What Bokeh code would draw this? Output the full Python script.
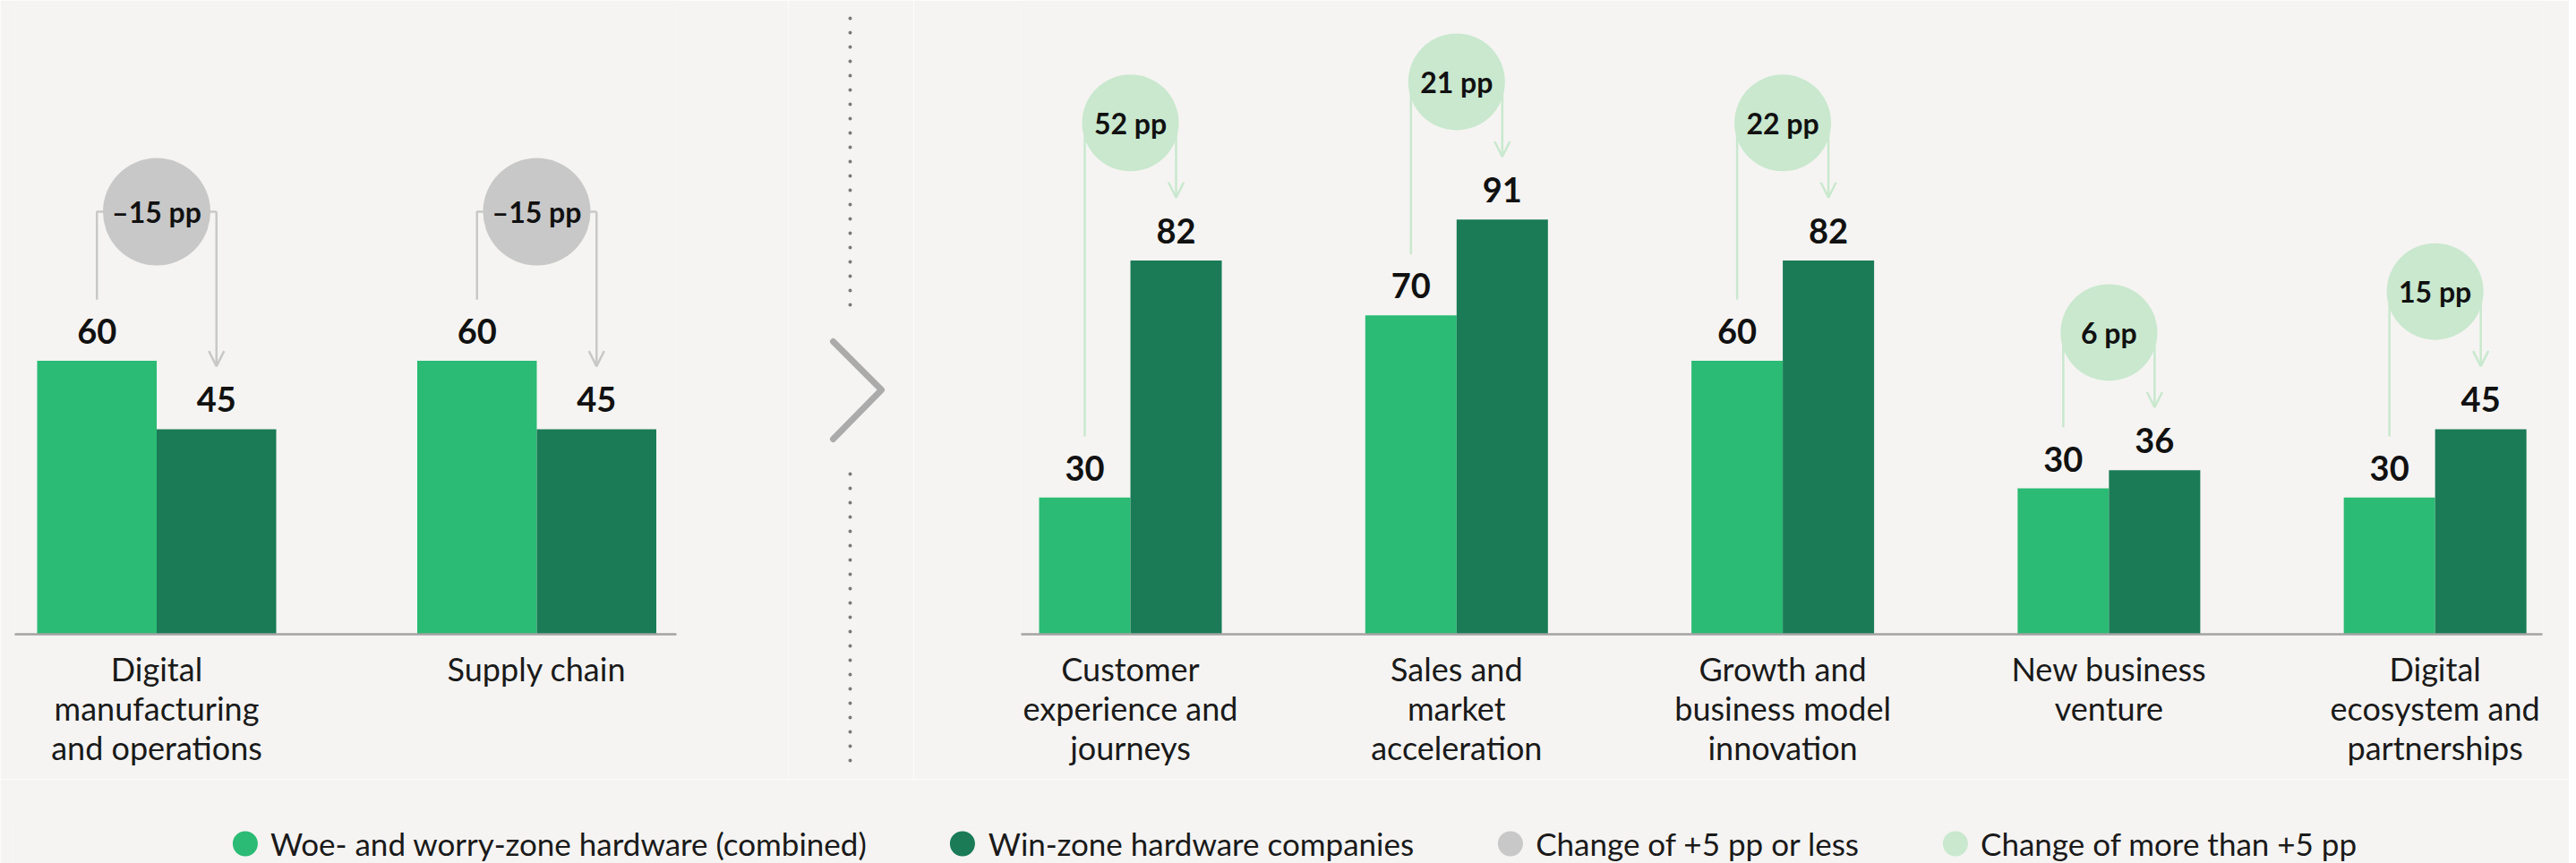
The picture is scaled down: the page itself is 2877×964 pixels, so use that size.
from bokeh.plotting import figure
from bokeh.models import (ColumnDataSource, Range1d, FixedTicker, Arrow, OpenHead,
                          Legend, LegendItem)
from bokeh.layouts import row, column
from bokeh.transform import dodge
from bokeh.core.properties import value
from bokeh.embed import file_html
from bokeh.resources import INLINE

# ---------------- data ----------------
left_categories = ["Digital\nmanufacturing\nand operations", "Supply chain"]
left_woe = [60, 60]
left_woe_labels = ["60", "60"]
left_win = [45, 45]
left_change = ["\u201315 pp", "\u201315 pp"]

right_categories = ["Customer\nexperience and\njourneys",
                    "Sales and\nmarket\nacceleration",
                    "Growth and\nbusiness model\ninnovation",
                    "New business\nventure",
                    "Digital\necosystem and\npartnerships"]
right_woe = [30, 70, 60, 32, 30]          # bar heights as drawn
right_woe_labels = ["30", "70", "60", "30", "30"]
right_win = [82, 91, 82, 36, 45]
right_change = ["52 pp", "21 pp", "22 pp", "6 pp", "15 pp"]

legend_labels = ["Woe- and worry-zone hardware (combined)",
                 "Win-zone hardware companies",
                 "Change of +5 pp or less",
                 "Change of more than +5 pp"]

# ---------------- style ----------------
BG = "#F5F4F2"
LIGHT = "#2BBB74"
DARK = "#1A7B56"
GRAY_BUB = "#C8C8C8"
GREEN_BUB = "#C9E8CE"
TXT = "#1a1a1a"
FONT = "Lato"
legend_colors = [LIGHT, DARK, GRAY_BUB, GREEN_BUB]

Y_MAX = 137.5
TOP = 8
FRAME_H = 700
BOTTOM = 162


def panel(cats, woe, woe_lbl, win, change, frame_w, b_left, b_right,
          x_start, x_end, bar_w, bub_color, bub_size, bub_gap):
    n = len(cats)
    idx = list(range(n))
    top = [max(a, b) for a, b in zip(woe, win)]
    bub = [t + bub_gap for t in top]
    src = ColumnDataSource(dict(
        idx=idx, woe=woe, win=win, woe_lbl=woe_lbl,
        win_lbl=[str(v) for v in win], change=change, bub=bub,
        rx=[i + bar_w / 2 for i in idx],
        tip=[v + 13.8 for v in win],
    ))
    p = figure(frame_width=frame_w, frame_height=FRAME_H,
               min_border_left=b_left, min_border_right=b_right,
               min_border_top=TOP, min_border_bottom=BOTTOM,
               x_range=Range1d(x_start, x_end), y_range=Range1d(0, Y_MAX),
               y_axis_location=None, toolbar_location=None,
               output_backend="svg")
    p.background_fill_color = BG
    p.border_fill_color = BG
    p.outline_line_color = None
    p.grid.visible = False

    ax = p.xaxis[0]
    ax.ticker = FixedTicker(ticks=idx)
    ax.major_label_overrides = {i: c for i, c in zip(idx, cats)}
    ax.major_tick_line_color = None
    ax.minor_tick_line_color = None
    ax.axis_line_color = "#a3a3a3"
    ax.axis_line_width = 2.5
    ax.major_label_text_font = FONT
    ax.major_label_text_font_size = "36px"
    ax.major_label_text_color = TXT
    ax.major_label_standoff = 10
    ax.major_label_text_line_height = 1.0

    # brackets (under the bubbles)
    xs = [[i - bar_w / 2, i - bar_w / 2, i + bar_w / 2] for i in idx]
    ys = [[w + 13.4, b, b] for w, b in zip(woe, bub)]
    p.multi_line(xs=xs, ys=ys, line_color=bub_color, line_width=2.5)
    arr = Arrow(end=OpenHead(size=17, line_color=bub_color, line_width=2.5),
                x_start="rx", y_start="bub", x_end="rx", y_end="tip",
                source=src, line_color=bub_color, line_width=2.5,
                level="underlay")
    p.add_layout(arr)

    # bars
    p.vbar(x=dodge("idx", -bar_w / 2, range=p.x_range), top="woe", bottom=0,
           width=bar_w, source=src, fill_color=LIGHT, line_color=None)
    p.vbar(x=dodge("idx", bar_w / 2, range=p.x_range), top="win", bottom=0,
           width=bar_w, source=src, fill_color=DARK, line_color=None)

    # value labels
    for col, lbl in (("woe", "woe_lbl"), ("win", "win_lbl")):
        off = -bar_w / 2 if col == "woe" else bar_w / 2
        p.text(x=dodge("idx", off, range=p.x_range), y=col, text=lbl,
               source=src, text_align="center", text_baseline="middle",
               y_offset=-33, text_font=value(FONT), text_font_style="bold",
               text_font_size="38px", text_color="#111111")

    # bubbles
    p.scatter(x="idx", y="bub", size=bub_size, marker="circle", source=src,
              fill_color=bub_color, line_color=None)
    p.text(x="idx", y="bub", text="change", source=src, text_align="center",
           text_baseline="middle", text_font=value(FONT),
           text_font_style="bold", text_font_size="32px", text_color="#111111")
    return p


left = panel(left_categories, left_woe, left_woe_labels, left_win, left_change,
             frame_w=739, b_left=16, b_right=125,
             x_start=-0.3734, x_end=1.3675, bar_w=0.3145,
             bub_color=GRAY_BUB, bub_size=120, bub_gap=32.7)

right = panel(right_categories, right_woe, right_woe_labels, right_win,
              right_change, frame_w=1699, b_left=120, b_right=30,
              x_start=-0.335, x_end=4.329, bar_w=0.28,
              bub_color=GREEN_BUB, bub_size=108, bub_gap=30.2)

# ---------------- divider ----------------
H_ROW = TOP + FRAME_H + BOTTOM
mid = figure(frame_width=140, frame_height=H_ROW, min_border=0,
             x_range=Range1d(880, 1020), y_range=Range1d(H_ROW, 0),
             x_axis_location=None, y_axis_location=None,
             toolbar_location=None, output_backend="svg")
mid.background_fill_color = BG
mid.border_fill_color = BG
mid.outline_line_color = None
mid.grid.visible = False
mid.segment(x0=[949, 949], y0=[12, 521], x1=[949, 949], y1=[338, 848],
            line_color="#7a7a7a", line_width=4, line_cap="round",
            line_dash="0 16")
mid.line(x=[930, 984, 930], y=[373, 427, 482], line_color="#ababab",
         line_width=7, line_cap="round", line_join="round")

# ---------------- legend ----------------
total_w = 880 + 140 + 120 + 1699 + 30
lg = figure(frame_width=total_w - 14, frame_height=44, min_border_left=14,
            min_border_right=0, min_border_top=50, min_border_bottom=0,
            x_range=Range1d(0, 1), y_range=Range1d(0, 1),
            x_axis_location=None, y_axis_location=None,
            toolbar_location=None, output_backend="svg")
lg.background_fill_color = BG
lg.border_fill_color = BG
lg.outline_line_color = None
lg.grid.visible = False
items = []
for lab, col in zip(legend_labels, legend_colors):
    r = lg.scatter(x=[float("nan")], y=[float("nan")], marker="circle",
                   fill_color=col, line_color=col, line_width=10.4)
    items.append(LegendItem(label=lab, renderers=[r]))
legend = Legend(items=items, orientation="horizontal", location="center",
                glyph_width=44, glyph_height=44, label_standoff=7, spacing=85,
                padding=0, margin=0, border_line_color=None,
                background_fill_alpha=0, label_text_font=FONT,
                label_text_font_size="35px", label_text_color=TXT)
lg.add_layout(legend)

layout = column(row(left, mid, right), lg)

html = file_html(layout, INLINE)
html = html.replace("<body>", '<body style="background-color:%s;">' % BG, 1)
open("out.html", "w").write(html)
